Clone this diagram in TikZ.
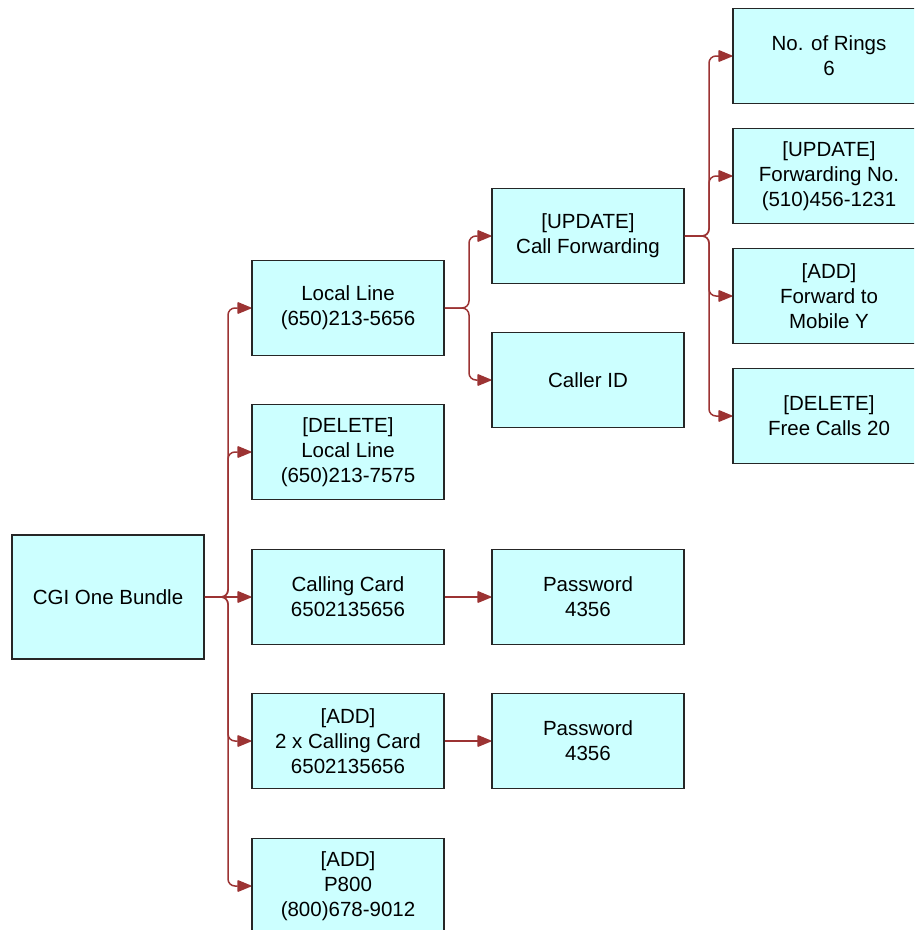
\documentclass[tikz,border=0pt]{standalone}
\usepackage{fontspec}
\setmainfont{Liberation Sans}
\usetikzlibrary{arrows.meta}
\definecolor{boxfill}{HTML}{CCFFFF}
\definecolor{conn}{HTML}{9C3333}
\tikzset{
  box/.style={draw=black!85, line width=1.8pt, fill=boxfill, minimum width=192pt, minimum height=95pt, inner sep=0pt, align=center, font=\fontsize{20.5pt}{25pt}\selectfont},
  conn/.style={draw=conn, line width=1.5pt, rounded corners=7pt, -{Triangle[length=15pt,width=12pt,round]}}
}
\begin{document}
\begin{tikzpicture}[x=1pt,y=-1pt]
\useasboundingbox (0,0) rectangle (914,930);
\clip (0,0) rectangle (914,930);
% column 1
\node[box, minimum height=124pt] (root) at (108,597) {CGI One Bundle};
% column 2
\node[box] (ll) at (348,308) {Local Line\\(650)213-5656};
\node[box] (del) at (348,452) {[DELETE]\\Local Line\\(650)213-7575};
\node[box] (cc) at (348,597) {Calling Card\\6502135656};
\node[box] (cc2) at (348,741) {[ADD]\\2 x Calling Card\\6502135656};
\node[box] (p800) at (348,886) {[ADD]\\P800\\(800)678-9012};
% column 3
\node[box] (cf) at (588,236) {[UPDATE]\\Call Forwarding};
\node[box] (cid) at (588,380) {Caller ID};
\node[box] (pw1) at (588,597) {Password\\4356};
\node[box] (pw2) at (588,741) {Password\\4356};
% column 4
\node[box] (rings) at (829,56) {No. of Rings\\6};
\node[box] (fwd) at (829,176) {[UPDATE]\\Forwarding No.\\(510)456-1231};
\node[box] (mob) at (829,296) {[ADD]\\Forward to\\Mobile Y};
\node[box] (free) at (829,416) {[DELETE]\\Free Calls 20};
% connectors root
\foreach \t in {ll,del,cc2,p800}
  \draw[conn] (root.east) -- (228,597) |- (\t.west);
\draw[conn] (root.east) -- (cc.west);
% connectors local line
\foreach \t in {cf,cid}
  \draw[conn] (ll.east) -- (469,308) |- (\t.west);
% connectors call forwarding
\foreach \t in {rings,fwd,mob,free}
  \draw[conn] (cf.east) -- (709,236) |- (\t.west);
% passwords
\draw[conn] (cc.east) -- (pw1.west);
\draw[conn] (cc2.east) -- (pw2.west);
\end{tikzpicture}
\end{document}
